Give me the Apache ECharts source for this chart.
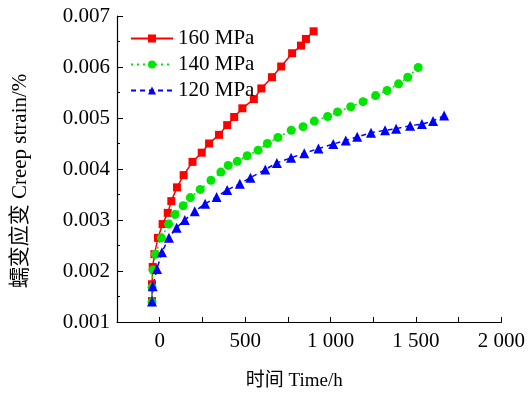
<!DOCTYPE html>
<html>
<head>
<meta charset="utf-8">
<script src="https://cdn.jsdelivr.net/npm/echarts@6/dist/echarts.min.js"></script>
<style>
  html, body { margin: 0; padding: 0; background: #fff; }
  #chart { width: 528px; height: 396px; }
</style>
</head>
<body>
<div id="chart"></div>
<script>
const seriesNames = ['160 MPa', '140 MPa', '120 MPa']

const time160 = [-45, -45, -41, -31, -10, 17, 47, 68, 101, 140, 192, 246, 289, 347, 395, 436, 484, 551, 595, 657, 711, 775, 827, 856, 901]
const strain160 = [0.00141, 0.00174, 0.00208, 0.00233, 0.00265, 0.00292, 0.00314, 0.00337, 0.00364, 0.00388, 0.00414, 0.00432, 0.00450, 0.00467, 0.00486, 0.00502, 0.00519, 0.00537, 0.00558, 0.00580, 0.00601, 0.00627, 0.00642, 0.00655, 0.00670]

const time140 = [-45, -45, -39, -25, 10, 52, 89, 137, 179, 237, 300, 358, 401, 454, 512, 576, 630, 692, 770, 839, 905, 983, 1041, 1118, 1190, 1264, 1331, 1398, 1452, 1513]
const strain140 = [0.00139, 0.00168, 0.00202, 0.00233, 0.00265, 0.00292, 0.00311, 0.00328, 0.00344, 0.00360, 0.00378, 0.00394, 0.00407, 0.00415, 0.00426, 0.00437, 0.00450, 0.00462, 0.00476, 0.00483, 0.00494, 0.00503, 0.00512, 0.00522, 0.00532, 0.00544, 0.00554, 0.00567, 0.00580, 0.00599]

const time120 = [-45, -41, -16, 13, 54, 99, 147, 205, 266, 333, 395, 469, 531, 618, 686, 769, 846, 929, 1016, 1089, 1156, 1237, 1319, 1384, 1466, 1535, 1600, 1665]
const strain120 = [0.00140, 0.00170, 0.00204, 0.00237, 0.00265, 0.00285, 0.00300, 0.00317, 0.00332, 0.00345, 0.00359, 0.00371, 0.00383, 0.00399, 0.00412, 0.00422, 0.00431, 0.00440, 0.00449, 0.00456, 0.00463, 0.00471, 0.00476, 0.00479, 0.00485, 0.00488, 0.00494, 0.00505]

const zip = (xs, ys) => xs.map((x, i) => [x, ys[i]])

const font = '"Liberation Serif", "Noto Sans CJK SC", serif'

const chart = echarts.init(document.getElementById('chart'))

const axisCommon = {
  axisLine: { show: true, onZero: false, lineStyle: { color: '#000', width: 1.2 } },
  splitLine: { show: false }
}

chart.setOption({
  animation: false,
  grid: { left: 117, right: 23, top: 16, bottom: 68, containLabel: false },
  legend: {
    orient: 'vertical',
    left: 125,
    top: 23,
    itemWidth: 42,
    itemHeight: 10,
    itemGap: 5,
    textStyle: { fontFamily: font, fontSize: 21, color: '#000' },
    data: seriesNames
  },
  xAxis: {
    type: 'value',
    min: -250,
    max: 2000,
    interval: 250,
    name: '时间 Time/h',
    nameLocation: 'middle',
    nameGap: 50,
    nameTextStyle: { fontFamily: font, fontSize: 19, color: '#000', padding: [0, 30, 0, 0] },
    ...axisCommon,
    axisTick: { inside: true, length: 5, lineStyle: { color: '#000' } },
    axisLabel: {
      margin: 9,
      fontFamily: font,
      fontSize: 21,
      color: '#000',
      formatter: (v) => {
        if (v < 0 || v % 500 !== 0) return ''
        return v >= 1000 ? Math.floor(v / 1000) + ' ' + String(v % 1000).padStart(3, '0') : String(v)
      }
    }
  },
  yAxis: {
    type: 'value',
    min: 0.001,
    max: 0.007,
    interval: 0.001,
    name: '蠕变应变 Creep strain/%',
    nameLocation: 'middle',
    nameGap: 86,
    nameTextStyle: { fontFamily: font, fontSize: 21, color: '#000', padding: [0, 24, 0, 0] },
    ...axisCommon,
    axisTick: { inside: true, length: 6, lineStyle: { color: '#000' } },
    minorTick: { show: true, splitNumber: 2, length: 3, lineStyle: { color: '#000' } },
    axisLabel: {
      margin: 7,
      fontFamily: font,
      fontSize: 21,
      color: '#000',
      formatter: (v) => v.toFixed(3)
    }
  },
  series: [
    {
      name: seriesNames[0],
      type: 'line',
      data: zip(time160, strain160),
      symbol: 'rect',
      symbolSize: 8,
      lineStyle: { color: '#ff0000', width: 1.5, type: 'solid' },
      itemStyle: { color: '#ff0000' }
    },
    {
      name: seriesNames[1],
      type: 'line',
      data: zip(time140, strain140),
      symbol: 'circle',
      symbolSize: 9,
      lineStyle: { color: '#00e600', width: 1.5, type: [2, 4] },
      itemStyle: { color: '#00e600' }
    },
    {
      name: seriesNames[2],
      type: 'line',
      data: zip(time120, strain120),
      symbol: 'triangle',
      symbolSize: 10,
      lineStyle: { color: '#0000ff', width: 1.5, type: [5, 4] },
      itemStyle: { color: '#0000ff' }
    }
  ]
})
</script>
</body>
</html>
